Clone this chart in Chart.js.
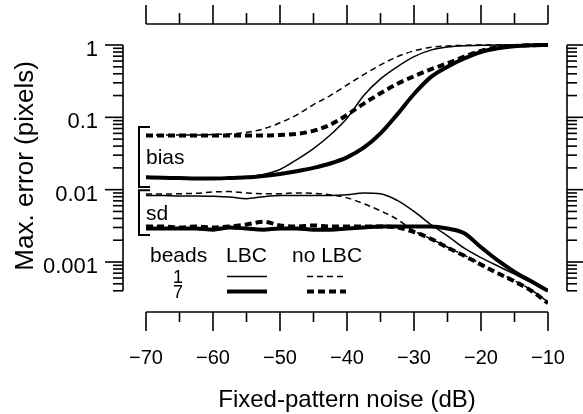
<!DOCTYPE html>
<html>
<head>
<meta charset="utf-8">
<title>Max. error vs fixed-pattern noise</title>
<script src="https://cdn.jsdelivr.net/npm/chart.js@4.4.0/dist/chart.umd.min.js"></script>
<style>
  html, body { margin: 0; padding: 0; background: #fff; }
  canvas { display: block; }
</style>
</head>
<body>
<canvas id="errorChart" width="583" height="414"></canvas>
<script>
// ===========================
// Data
// ===========================

const noiseDb = [-70, -67.5, -65, -62.5, -60, -57.5, -55, -52.5, -50, -47.5, -45, -42.5, -40,
                 -37.5, -35, -32.5, -30, -27.5, -25, -22.5, -20, -17.5, -15, -12.5, -10];

// bias, 1 bead / 7 beads, with and without LBC
const biasOneLbc    = [0.0148, 0.0146, 0.0145, 0.0144, 0.0145, 0.0147, 0.015, 0.0162, 0.019, 0.026, 0.037, 0.057, 0.097,
                       0.2, 0.34, 0.5, 0.69, 0.85, 0.94, 0.98, 0.99, 1.0, 1.0, 1.0, 1.0];
const biasSevenLbc  = [0.0148, 0.0146, 0.0145, 0.0143, 0.0143, 0.0145, 0.0148, 0.0155, 0.0165, 0.018, 0.02, 0.023, 0.028,
                       0.038, 0.06, 0.11, 0.21, 0.36, 0.5, 0.65, 0.8, 0.9, 0.96, 0.99, 1.0];
const biasOneNoLbc  = [0.057, 0.057, 0.057, 0.057, 0.058, 0.059, 0.062, 0.069, 0.084, 0.108, 0.15, 0.2, 0.28,
                       0.39, 0.53, 0.69, 0.83, 0.93, 0.97, 0.99, 1.0, 1.0, 1.0, 1.0, 1.0];
const biasSevenNoLbc = [0.056, 0.056, 0.056, 0.056, 0.056, 0.056, 0.056, 0.056, 0.057, 0.059, 0.065, 0.079, 0.108,
                        0.155, 0.215, 0.29, 0.37, 0.46, 0.56, 0.69, 0.83, 0.93, 0.97, 0.99, 1.0];

// standard deviation
const sdOneLbc      = [0.0083, 0.0083, 0.0082, 0.0082, 0.0081, 0.0079, 0.0075, 0.008, 0.0083, 0.0083, 0.0083, 0.0083, 0.0085,
                       0.009, 0.0088, 0.0071, 0.005, 0.0033, 0.0023, 0.00155, 0.00115, 0.00088, 0.00068, 0.00052, 0.0004];
const sdSevenLbc    = [0.0029, 0.0029, 0.0029, 0.0029, 0.0028, 0.003, 0.0029, 0.0028, 0.0029, 0.0029, 0.0028, 0.0028, 0.0029,
                       0.003, 0.0031, 0.0031, 0.0031, 0.0031, 0.0029, 0.0025, 0.0016, 0.00105, 0.00073, 0.00054, 0.0004];
const sdOneNoLbc    = [0.0087, 0.0087, 0.0088, 0.0089, 0.0093, 0.0094, 0.009, 0.0088, 0.0088, 0.009, 0.0089, 0.0085, 0.0077,
                       0.0064, 0.0051, 0.0039, 0.0027, 0.0021, 0.0016, 0.00124, 0.00094, 0.00072, 0.00055, 0.00041, 0.00028];
const sdSevenNoLbc  = [0.0031, 0.0031, 0.003, 0.0031, 0.003, 0.0031, 0.0033, 0.0036, 0.0032, 0.0031, 0.0032, 0.0031, 0.0031,
                       0.0031, 0.0031, 0.003, 0.0026, 0.0021, 0.00158, 0.00122, 0.00092, 0.0007, 0.00054, 0.0004, 0.00027];

// axes
const xMajorTicks = [-70, -60, -50, -40, -30, -20, -10];
const xMinorTicks = [-65, -55, -45, -35, -25, -15];
const xTickLabels = ['\u221270', '\u221260', '\u221250', '\u221240', '\u221230', '\u221220', '\u221210'];
const yMajorTicks = [1, 0.1, 0.01, 0.001];
const yTickLabels = ['1', '0.1', '0.01', '0.001'];
const yAxisBottom = 0.0004;

// bracket ranges for the "bias" and "sd" groups
const biasRange = [0.0735, 0.0109];
const sdRange = [0.0098, 0.00236];

// ===========================
// Styles
// ===========================

const FONT = '"Liberation Sans", Arial, Helvetica, sans-serif';
const THIN = 1.5;
const THICK = 4;
const THIN_DASH = [6, 4];
const THICK_DASH = [7, 4];

function toPoints(values) {
    return noiseDb.map((x, i) => ({ x: x, y: values[i] }));
}

function series(label, values, width, dash) {
    return {
        label: label,
        data: toPoints(values),
        borderColor: '#000',
        borderWidth: width,
        borderDash: dash,
        pointRadius: 0,
        fill: false,
        tension: 0.4,
        cubicInterpolationMode: 'monotone'
    };
}

// ===========================
// Detached axes, brackets and legend
// ===========================

function segment(ctx, x1, y1, x2, y2) {
    ctx.beginPath();
    ctx.moveTo(x1, y1);
    ctx.lineTo(x2, y2);
    ctx.stroke();
}

const axesPlugin = {
    id: 'detachedAxes',
    afterDraw(chart) {
        const ctx = chart.ctx;
        const xs = chart.scales.x;
        const ys = chart.scales.y;
        const area = chart.chartArea;

        ctx.save();
        ctx.strokeStyle = '#000';
        ctx.fillStyle = '#000';
        ctx.lineWidth = 1.6;
        ctx.setLineDash([]);

        // bottom and top x axes
        const xl = xs.getPixelForValue(xMajorTicks[0]);
        const xr = xs.getPixelForValue(xMajorTicks[xMajorTicks.length - 1]);
        segment(ctx, xl, area.bottom, xr, area.bottom);
        segment(ctx, xl, area.top, xr, area.top);
        xMajorTicks.forEach(v => {
            const px = xs.getPixelForValue(v);
            segment(ctx, px, area.bottom, px, area.bottom + 19);
            segment(ctx, px, area.top, px, area.top - 19);
        });
        xMinorTicks.forEach(v => {
            const px = xs.getPixelForValue(v);
            segment(ctx, px, area.bottom, px, area.bottom + 10);
            segment(ctx, px, area.top, px, area.top - 11);
        });

        ctx.font = `20px ${FONT}`;
        ctx.textAlign = 'center';
        ctx.textBaseline = 'alphabetic';
        xMajorTicks.forEach((v, i) => {
            ctx.fillText(xTickLabels[i], xs.getPixelForValue(v), area.bottom + 52);
        });
        ctx.font = `24px ${FONT}`;
        ctx.fillText('Fixed-pattern noise (dB)', (xl + xr) / 2, area.bottom + 95);

        // left and right log y axes
        const leftX = area.left - 23;
        const rightX = area.right + 19;
        const yt = ys.getPixelForValue(yMajorTicks[0]);
        const yb = ys.getPixelForValue(yAxisBottom);
        segment(ctx, leftX, yt, leftX, yb);
        segment(ctx, rightX, yt, rightX, yb);
        yMajorTicks.forEach(v => {
            const py = ys.getPixelForValue(v);
            segment(ctx, leftX, py, leftX - 18, py);
            segment(ctx, rightX, py, rightX + 16, py);
        });
        for (let k = -4; k < 0; k++) {
            for (let m = 2; m <= 9; m++) {
                const v = m * Math.pow(10, k);
                if (v < yAxisBottom - 1e-12) continue;
                const py = ys.getPixelForValue(v);
                segment(ctx, leftX, py, leftX - 10, py);
                segment(ctx, rightX, py, rightX + 10, py);
            }
        }

        ctx.font = `22px ${FONT}`;
        ctx.textAlign = 'right';
        yMajorTicks.forEach((v, i) => {
            ctx.fillText(yTickLabels[i], leftX - 25, ys.getPixelForValue(v) + 11);
        });

        ctx.save();
        ctx.translate(33, (yt + yb) / 2 - 2);
        ctx.rotate(-Math.PI / 2);
        ctx.textAlign = 'center';
        ctx.font = `26px ${FONT}`;
        ctx.fillText('Max. error (pixels)', 0, 0);
        ctx.restore();

        // bias / sd brackets
        const bx = area.left - 7;
        const capX = area.left + 4;
        ctx.lineWidth = 2;
        [biasRange, sdRange].forEach(range => {
            const y1 = ys.getPixelForValue(range[0]);
            const y2 = ys.getPixelForValue(range[1]);
            ctx.beginPath();
            ctx.moveTo(capX, y1);
            ctx.lineTo(bx, y1);
            ctx.lineTo(bx, y2);
            ctx.lineTo(capX, y2);
            ctx.stroke();
        });
        ctx.font = `21px ${FONT}`;
        ctx.textAlign = 'left';
        ctx.fillText('bias', area.left, ys.getPixelForValue(0.0225));
        ctx.fillText('sd', area.left, ys.getPixelForValue(0.0038));

        // legend
        ctx.fillText('beads', 150, 261.5);
        ctx.fillText('LBC', 226, 261.5);
        ctx.fillText('no LBC', 292, 261.5);
        ctx.font = `18px ${FONT}`;
        ctx.textAlign = 'center';
        ctx.fillText('1', 178, 283);
        ctx.fillText('7', 178, 298);

        const rows = [
            { y: 276.5, lbc: 0, noLbc: 2 },
            { y: 291.5, lbc: 1, noLbc: 3 }
        ];
        const sets = chart.data.datasets;
        rows.forEach(r => {
            [[r.lbc, 227, 267], [r.noLbc, 307, 346]].forEach(([idx, a, b]) => {
                ctx.lineWidth = sets[idx].borderWidth;
                ctx.setLineDash(sets[idx].borderDash);
                segment(ctx, a, r.y, b, r.y);
            });
        });
        ctx.restore();
    }
};

// ===========================
// Chart
// ===========================

new Chart(document.getElementById('errorChart'), {
    type: 'line',
    data: {
        datasets: [
            series('bias, 1 bead, LBC', biasOneLbc, THIN, []),
            series('bias, 7 beads, LBC', biasSevenLbc, THICK, []),
            series('bias, 1 bead, no LBC', biasOneNoLbc, THIN, THIN_DASH),
            series('bias, 7 beads, no LBC', biasSevenNoLbc, THICK, THICK_DASH),
            series('sd, 1 bead, LBC', sdOneLbc, THIN, []),
            series('sd, 7 beads, LBC', sdSevenLbc, THICK, []),
            series('sd, 1 bead, no LBC', sdOneNoLbc, THIN, THIN_DASH),
            series('sd, 7 beads, no LBC', sdSevenNoLbc, THICK, THICK_DASH)
        ]
    },
    options: {
        responsive: false,
        animation: false,
        devicePixelRatio: 1,
        layout: { padding: { left: 146, right: 35, top: 24, bottom: 102 } },
        plugins: {
            legend: { display: false },
            tooltip: { enabled: false }
        },
        scales: {
            x: { type: 'linear', display: false, min: -70, max: -10 },
            y: { type: 'logarithmic', display: false, bounds: 'data', min: 0.0002036, max: 1.951 }
        }
    },
    plugins: [axesPlugin]
});
</script>
</body>
</html>
